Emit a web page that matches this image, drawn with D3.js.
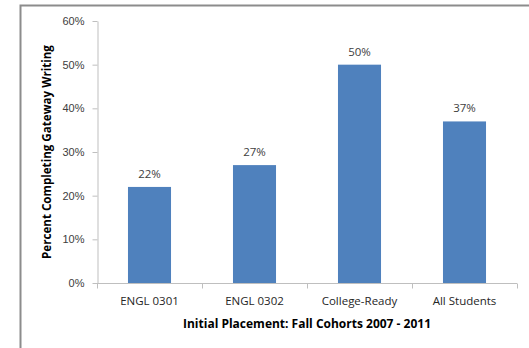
<!DOCTYPE html>
<html>
<head>
<meta charset="utf-8">
<script src="https://cdn.jsdelivr.net/npm/d3@7"></script>
<style>
  html, body { margin: 0; padding: 0; background: #fff; }
  svg { display: block; font-family: "Open Sans", "Liberation Sans", sans-serif; }
</style>
</head>
<body>
<svg id="chart" width="529" height="348"></svg>
<script>
// Gateway writing completion by initial placement
const categories = ["ENGL 0301", "ENGL 0302", "College-Ready", "All Students"];
const values = [22, 27, 50, 37];
const yTicks = [0, 10, 20, 30, 40, 50, 60];

const svg = d3.select("#chart");
const margin = { left: 97, right: 12, top: 21, bottom: 65 };
const W = 529, H = 348;

// Chart frame (top and left edges)
svg.append("path")
  .attr("d", `M20.5,348 V5.5 H529`)
  .attr("fill", "none")
  .attr("stroke", "#8c8c8c")
  .attr("stroke-width", 2);

const x = d3.scaleBand()
  .domain(categories)
  .range([margin.left, W - margin.right])
  .paddingInner(0.59)
  .paddingOuter(0.295);

const y = d3.scaleLinear()
  .domain([0, 60])
  .range([H - margin.bottom, margin.top]);

// Y axis
const yAxis = svg.append("g")
  .attr("transform", `translate(${margin.left + 0.5},0)`)
  .call(d3.axisLeft(y).tickValues(yTicks).tickSize(5).tickSizeOuter(0).tickFormat(d => d + "%"));
yAxis.select(".domain").attr("stroke", "#bfbfbf");
yAxis.selectAll(".tick line").attr("stroke", "#bfbfbf");
yAxis.selectAll(".tick text")
  .attr("x", -13)
  .attr("fill", "#404040")
  .style("font-size", "11px");

// Bars
svg.selectAll("rect.bar")
  .data(values)
  .join("rect")
  .attr("class", "bar")
  .attr("x", (d, i) => x(categories[i]))
  .attr("width", x.bandwidth())
  .attr("y", d => y(d))
  .attr("height", d => y(0) - y(d))
  .attr("fill", "#4f81bd");

// Value labels
svg.selectAll("text.val")
  .data(values)
  .join("text")
  .attr("class", "val")
  .attr("x", (d, i) => x(categories[i]) + x.bandwidth() / 2)
  .attr("y", d => y(d) - 9)
  .attr("text-anchor", "middle")
  .attr("fill", "#404040")
  .style("font-size", "11.5px")
  .text(d => d + "%");

// X axis with ticks at category boundaries
const x0 = y(0) + 0.5;
const step = x.step();
svg.append("line")
  .attr("x1", margin.left).attr("x2", W - margin.right)
  .attr("y1", x0).attr("y2", x0)
  .attr("stroke", "#bfbfbf");
svg.selectAll("line.xt")
  .data(d3.range(categories.length + 1))
  .join("line")
  .attr("class", "xt")
  .attr("x1", i => Math.round(margin.left + i * step) + 0.5)
  .attr("x2", i => Math.round(margin.left + i * step) + 0.5)
  .attr("y1", x0).attr("y2", x0 + 5)
  .attr("stroke", "#bfbfbf");

svg.selectAll("text.cat")
  .data(categories)
  .join("text")
  .attr("class", "cat")
  .attr("x", d => x(d) + x.bandwidth() / 2)
  .attr("y", y(0) + 22)
  .attr("text-anchor", "middle")
  .attr("fill", "#262626")
  .style("font-size", "11.5px")
  .text(d => d);

// Axis titles
svg.append("text")
  .attr("x", (margin.left + W - margin.right) / 2)
  .attr("y", 328)
  .attr("text-anchor", "middle")
  .attr("fill", "#000")
  .style("font-size", "12px")
  .style("font-weight", "bold")
  .text("Initial Placement: Fall Cohorts 2007 - 2011");

svg.append("text")
  .attr("transform", "translate(51,152) rotate(-90)")
  .attr("text-anchor", "middle")
  .attr("fill", "#000")
  .style("font-size", "11.6px")
  .style("font-weight", "bold")
  .text("Percent Completing Gateway Writing");
</script>
</body>
</html>
